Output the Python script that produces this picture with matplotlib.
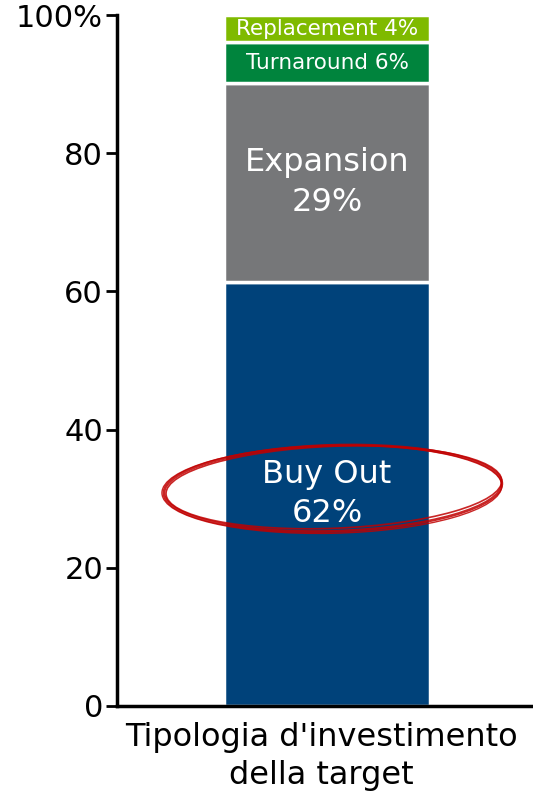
import matplotlib.pyplot as plt
from matplotlib.patches import Ellipse
from matplotlib.transforms import ScaledTranslation

plt.rcParams['font.family'] = ['DejaVu Sans']

# shares by investment type, bottom to top
categories = ['Buy Out', 'Expansion', 'Turnaround', 'Replacement']
shares = [62, 29, 6, 4]
colors = ['#00427A', '#767779', '#00843D', '#7FBA00']
yticks = [0, 20, 40, 60, 80, 100]
ytick_labels = ['0', '20', '40', '60', '80', '100%']
xlabel = "Tipologia d'investimento\ndella target"

total = sum(shares)
heights = [s / total * 100 for s in shares]  # rounded labels add up to 101

fig = plt.figure(figsize=(5.33, 7.94), dpi=100)
ax = fig.add_axes([0.2195, 0.111, 0.7805, 0.87])

bar_x = 0.505
bar_w = 0.495
bottom = 0
for cat, s, h, c in zip(categories, shares, heights, colors):
    ax.bar(bar_x, h, bottom=bottom, width=bar_w, color=c,
           edgecolor='white', linewidth=2.5, zorder=2)
    mid = bottom + h / 2
    if h > 20:
        ax.text(bar_x, mid, f'{cat}\n{s}%', ha='center', va='center',
                color='white', fontsize=23, linespacing=1.35, zorder=3)
    else:
        ax.text(bar_x, mid, f'{cat} {s}%', ha='center', va='center',
                color='white', fontsize=15.5, zorder=3)
    bottom += h

# hand drawn red ring round the Buy Out label (sizes in inches)
ring = fig.dpi_scale_trans + ScaledTranslation(0.519, 31.5, ax.transData)
for w, hgt, dx, dy, a, lw in [(3.38, 0.86, 0.0, 0.0, 1.7, 2.0),
                             (3.36, 0.82, 0.01, 0.01, 2.3, 1.2),
                             (3.40, 0.88, -0.01, -0.01, 1.3, 1.0)]:
    ax.add_patch(Ellipse((dx, dy), w, hgt, angle=a, transform=ring,
                         fill=False, edgecolor='#C00000', linewidth=lw,
                         alpha=0.85, zorder=4, clip_on=False))

ax.set_xlim(0, 1)
ax.set_ylim(0, 100)
ax.set_yticks(yticks)
ax.set_yticklabels(ytick_labels)
ax.set_xticks([])
ax.set_xlabel(xlabel, fontsize=23, linespacing=1.3)
ax.xaxis.set_label_coords(0.492, -0.023, transform=ax.transAxes)
ax.xaxis.label.set_va('top')

ax.tick_params(axis='y', labelsize=22, length=8, width=2, pad=2)
for side in ['top', 'right']:
    ax.spines[side].set_visible(False)
ax.spines['left'].set_linewidth(2.5)
ax.spines['bottom'].set_linewidth(2.5)

fig.savefig('out.png', dpi=100)
